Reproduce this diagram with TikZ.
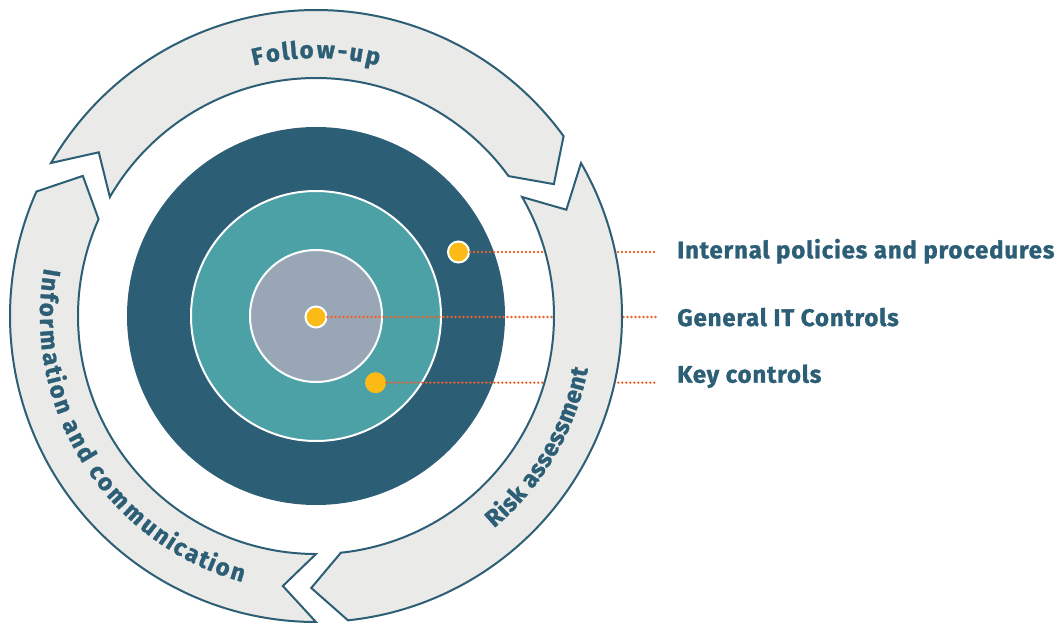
\documentclass[tikz,border=0pt]{standalone}
\usepackage{fontspec}
\setmainfont{Fira Sans}[BoldFeatures={FakeBold=1.2}]
\newfontfamily\lblfont{Fira Sans}[LetterSpace=3.5, BoldFeatures={FakeBold=1.2}]
\usetikzlibrary{decorations.text}

\definecolor{ringblue}{RGB}{44,94,118}
\definecolor{tealc}{RGB}{75,161,166}
\definecolor{greyc}{RGB}{153,166,182}
\definecolor{bandgrey}{RGB}{234,234,232}
\definecolor{dotyellow}{RGB}{251,186,22}
\definecolor{leadorange}{RGB}{232,98,44}

\tikzset{
  band/.style={fill=bandgrey, draw=ringblue, line width=1.5pt, line join=miter},
  spot/.style={circle, fill=dotyellow, inner sep=0pt, minimum size=15.75pt},
  ringspot/.style={spot, draw=white, line width=1.5pt},
  lead/.style={draw=leadorange, line width=2pt, line cap=round, dash pattern=on 0pt off 3pt},
  lbl/.style={text=ringblue, font=\lblfont\bfseries\fontsize{18}{21}\selectfont, inner xsep=15pt, inner ysep=0pt, anchor=base west},
  arctext/.style={decorate, decoration={text effects along path, text={#1},
    text effects/.cd, text along path, fit text to path,
    characters={text=ringblue, font=\bfseries\fontsize{18}{21}\selectfont, anchor=base}}}
}

\begin{document}
\begin{tikzpicture}[x=0.75pt,y=0.75pt]
\useasboundingbox (-316,-306) rectangle (748,316);

%Circles
\fill[ringblue] (0,0) circle (189);
\filldraw[fill=tealc, draw=white, line width=1.5pt] (0,0) circle (125);
\filldraw[fill=greyc, draw=white, line width=1.5pt] (0,0) circle (66);

%Dots
\node[ringspot] (polDot) at (142.5,64) {};
\node[ringspot] (itDot) at (0,-1) {};
\node[spot] (keyDot) at (59.6,-66.7) {};

% Text Node
\node[lbl] (polText) at (341,57.7) {Internal policies and procedures};
\node[lbl] (itText) at (341,-10) {General IT Controls};
\node[lbl] (keyText) at (341,-66.7) {Key controls};

\draw[lead] (polDot) -- (polDot -| polText.west);
\draw[lead] (itDot) -- (itDot -| itText.west);
\draw[lead] (keyDot) -- (keyDot -| keyText.west);

%Cycle arrows
\foreach \t in {150,30,-90}{
  \draw[band] ({\t}:306) arc[start angle=\t, end angle=\t-114, radius=306]
    -- ({\t-121}:272) -- ({\t-114}:238)
    arc[start angle=\t-114, end angle=\t, radius=238] -- ({\t-7}:272) -- cycle;
}

%Arc labels
\path[arctext={Follow-up}] (104:258) arc[start angle=104, end angle=76, radius=258];
\path[arctext={Information and communication}] (170:276) arc[start angle=170, end angle=254.5, radius=276];
\path[arctext={Risk assessment}] (-50:277) arc[start angle=-50, end angle=-11, radius=277];

\end{tikzpicture}
\end{document}
